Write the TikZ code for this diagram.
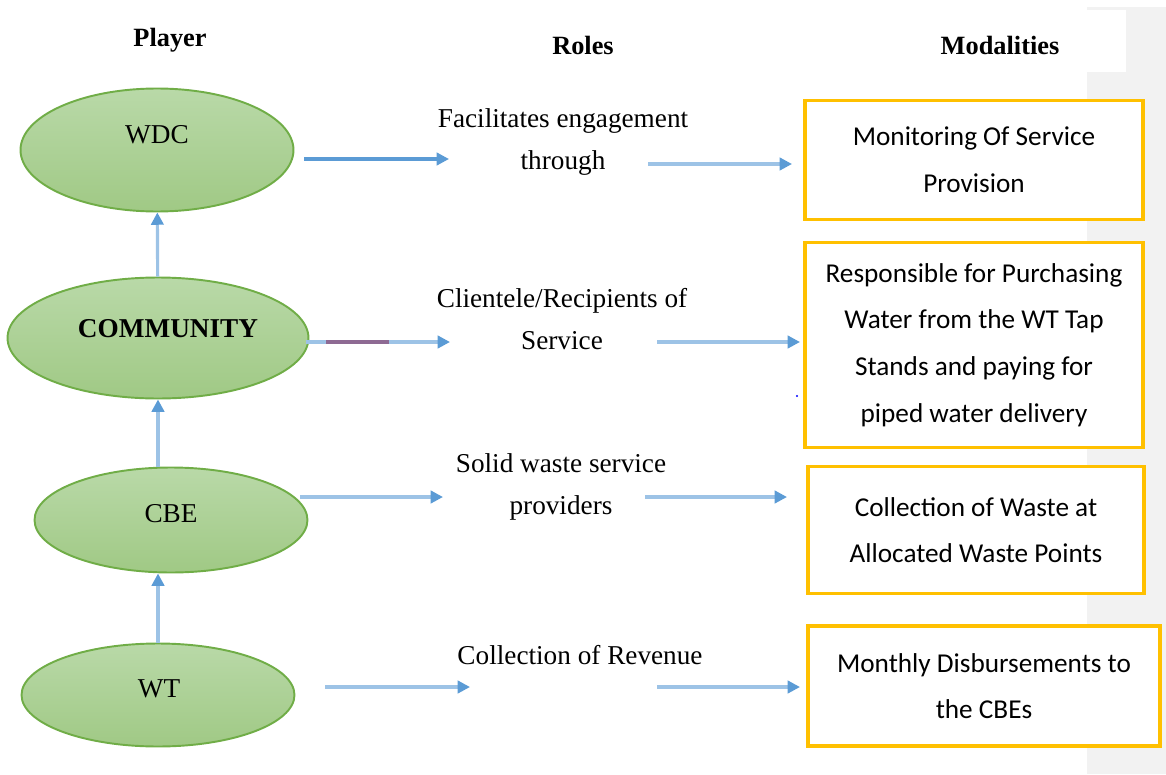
\documentclass[tikz,border=0pt]{standalone}
\usepackage{fontspec}
\setmainfont{Liberation Serif}
\newfontfamily\boxfont{Carlito}
\usetikzlibrary{arrows.meta,shapes.geometric}

\definecolor{leafgreen}{HTML}{70AD47}
\definecolor{leaftop}{HTML}{B9D9A8}
\definecolor{leafbottom}{HTML}{A0C985}
\definecolor{skyline}{HTML}{9DC3E6}
\definecolor{skyhead}{HTML}{5B9BD5}
\definecolor{amber}{HTML}{FFC000}
\definecolor{plum}{HTML}{8E6A93}
\definecolor{panelgrey}{HTML}{F2F2F2}

\begin{document}
\begin{tikzpicture}[x=0.02cm, y=-0.02cm,
    player/.style={ellipse, draw=leafgreen, line width=1.1pt,
        top color=leaftop, bottom color=leafbottom,
        minimum width=5.46cm, minimum height=2.46cm},
    tag/.style={font=\fontsize{15.5}{18}\selectfont},
    heading/.style={font=\bfseries\fontsize{15}{18}\selectfont},
    role/.style={align=center, font=\fontsize{15.5}{24}\selectfont},
    modality/.style={draw=amber, fill=white, line width=2pt, align=center,
        inner sep=0pt, font=\boxfont\fontsize{15.5}{26.5}\selectfont},
    flow/.style={skyline, line width=1.8pt,
        -{Triangle[length=7pt, width=7pt, color=skyhead]}}]

    % page frame and grey strip on the right
    \useasboundingbox (0,0) rectangle (1166,774);
    \fill[panelgrey] (1087,7) rectangle (1166,774);
    \fill[white] (1087,10) rectangle (1126,72);

    % column headings
    \node[heading] (hplayer) at (170,40) {Player};
    \node[heading] (hroles) at (583,45) {Roles};
    \node[heading] (hmodal) at (1000,45) {Modalities};

    % players
    \node[player] (wdc) at (157,150) {};
    \node[player, minimum width=6.02cm, minimum height=2.42cm] (community) at (158,338) {};
    \node[player, minimum height=2.1cm] (cbe) at (171,520) {};
    \node[player, minimum height=2.06cm] (wt) at (158,695) {};

    \node[tag] (wdc-tag) at (157,135) {WDC};
    \node[tag, font=\bfseries\fontsize{15.5}{18}\selectfont] (community-tag) at (168,329) {COMMUNITY};
    \node[tag] (cbe-tag) at (171,514) {CBE};
    \node[tag] (wt-tag) at (159,689) {WT};

    % upward chain
    \draw[flow] (wt.north) -- (wt.north |- cbe.south);
    \draw[flow] (community.south |- cbe.north) -- (community.south);
    \draw[flow] (community) -- (wdc);

    % roles
    \node[role] (r1) at (563,142) {Facilitates engagement\\through};
    \node[role] (r2) at (562,319) {Clientele/Recipients of\\Service};
    \node[role] (r3) at (561,487) {Solid waste service\\providers};
    \node[role] (r4) at (580,655) {Collection of Revenue};

    % modalities
    \node[modality, minimum width=6.76cm, minimum height=2.38cm] (m1) at (974,160)
        {Monitoring Of Service\\Provision};
    \node[modality, minimum width=6.76cm, minimum height=4.1cm] (m2) at (974,345)
        {Responsible for Purchasing\\Water from the WT Tap\\Stands and paying for\\piped water delivery};
    \node[modality, minimum width=6.72cm, minimum height=2.54cm] (m3) at (976,530)
        {Collection of Waste at\\Allocated Waste Points};
    \node[modality, minimum width=7.04cm, minimum height=2.4cm] (m4) at (984,686)
        {Monthly Disbursements to\\the CBEs};

    % arrow end points
    \coordinate (a1) at (304,159);  \coordinate (b1) at (449,159);
    \coordinate (c1) at (648,164);  \coordinate (d1) at (792,164);
    \coordinate (a2) at (306,342);  \coordinate (b2) at (450,342);
    \coordinate (c2) at (657,342);  \coordinate (d2) at (800,342);
    \coordinate (a3) at (300,497);  \coordinate (b3) at (443,497);
    \coordinate (c3) at (645,497);  \coordinate (d3) at (787,497);
    \coordinate (a4) at (325,687);  \coordinate (b4) at (470,687);
    \coordinate (c4) at (657,687);  \coordinate (d4) at (800,687);

    % player -> role -> modality
    \draw[flow, skyhead] (a1) -- (b1);
    \draw[flow] (c1) -- (d1);
    \draw[flow] (a2) -- (b2);
    \draw[plum, line width=1.8pt] (326,342) -- (389,342);
    \draw[flow] (c2) -- (d2);
    \draw[flow] (a3) -- (b3);
    \draw[flow] (c3) -- (d3);
    \draw[flow] (a4) -- (b4);
    \draw[flow] (c4) -- (d4);

    \fill[blue] (797,396) circle (1.2);
\end{tikzpicture}
\end{document}
